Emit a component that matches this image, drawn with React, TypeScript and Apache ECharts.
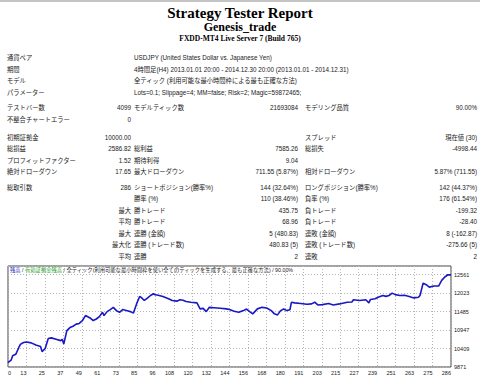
import React, { useEffect, useRef } from "react";
import * as echarts from "echarts";

// ---------- data ----------
const reportTitle = "Strategy Tester Report";
const expertName = "Genesis_trade";
const serverName = "FXDD-MT4 Live Server 7 (Build 765)";

const infoLabels = ["通貨ペア", "期間", "モデル", "パラメーター"];
const infoValues = [
  "USDJPY (United States Dollar vs. Japanese Yen)",
  "4時間足(H4) 2013.01.01 20:00 - 2014.12.30 20:00 (2013.01.01 - 2014.12.31)",
  "全ティック (利用可能な最小時間枠による最も正確な方法)",
  "Lots=0.1; Slippage=4; MM=false; Risk=2; Magic=59872465;",
];

const statRows: string[][] = [
  ["テストバー数", "4099", "モデルティック数", "21693084", "モデリング品質", "90.00%"],
  ["不整合チャートエラー", "0", "", "", "", ""],
  ["初期証拠金", "10000.00", "", "", "スプレッド", "現在値 (30)"],
  ["総損益", "2586.82", "総利益", "7585.26", "総損失", "-4998.44"],
  ["プロフィットファクター", "1.52", "期待利得", "9.04", "", ""],
  ["絶対ドローダウン", "17.65", "最大ドローダウン", "711.55 (5.87%)", "相対ドローダウン", "5.87% (711.55)"],
  ["総取引数", "286", "ショートポジション(勝率%)", "144 (32.64%)", "ロングポジション(勝率%)", "142 (44.37%)"],
  ["", "", "勝率 (%)", "110 (38.46%)", "負率 (%)", "176 (61.54%)"],
  ["", "最大", "勝トレード", "435.75", "負トレード", "-199.32"],
  ["", "平均", "勝トレード", "68.96", "負トレード", "-28.40"],
  ["", "最大", "連勝 (金額)", "5 (480.83)", "連敗 (金額)", "8 (-162.87)"],
  ["", "最大化", "連勝 (トレード数)", "480.83 (5)", "連敗 (トレード数)", "-275.66 (5)"],
  ["", "平均", "連勝", "2", "連敗", "2"],
];

const chartTitleBalance = "残高";
const chartTitleEquity = "有効証拠金残高";
const chartTitleRest = "全ティック(利用可能な最小時間枠を使い全てのティックを生成する、最も正確な方法) / 90.00%";

const xTickLabels = ["0", "13", "25", "37", "49", "61", "73", "85", "96", "108", "120", "132", "144", "156", "168", "180", "191", "203", "215", "227", "239", "251", "263", "275", "286"];
const yMin = 9871;
const yStep = 538;

const tradeIndex = [
  0, 2, 3, 5, 7, 8, 10, 12, 15, 18, 21, 22, 24, 26, 28, 31, 34, 35, 36, 38,
  40, 42, 44, 46, 48, 50, 53, 55, 57, 59, 61, 62, 64, 66, 68, 70, 72, 74, 77, 79,
  81, 83, 85, 86, 88, 90, 92, 94, 95, 97, 100, 104, 106, 109, 111, 113, 115, 118, 122, 124,
  126, 128, 130, 133, 137, 141, 143, 146, 149, 152, 154, 156, 158, 161, 164, 167, 170, 172, 174, 176,
  178, 180, 182, 183, 185, 189, 193, 196, 198, 200, 203, 207, 210, 214, 219, 222, 223, 227, 231, 233,
  234, 237, 239, 242, 244, 246, 248, 250, 253, 256, 259, 262, 265, 266, 268, 270, 272, 275, 278, 280,
  282, 284, 286,
];
const balance = [
  10000, 10070, 10200, 10240, 10440, 10530, 10585, 10600, 10575, 10510, 10470, 10320, 10410, 10700, 10720, 10680, 10640, 10680, 10540, 10930,
  11020, 11060, 11120, 11140, 11220, 11370, 11300, 11225, 11270, 11340, 11465, 11370, 11485, 11545, 11610, 11515, 11465, 11545, 11510, 11485,
  11445, 11710, 11925, 11900, 11810, 11880, 11955, 12005, 11975, 11960, 11925, 11855, 11810, 11790, 11830, 11815, 11780, 11760, 11740, 11565,
  11580, 11485, 11610, 11600, 11585, 11565, 11545, 11495, 11465, 11515, 11560, 11485, 11420, 11565, 11610, 11590, 11515, 11420, 11390, 11515,
  11560, 11515, 11540, 11760, 11740, 11720, 11700, 11710, 11760, 11680, 11690, 11720, 11680, 11710, 11760, 11765, 11830, 11810, 11830, 11740,
  11840, 11860, 11905, 11955, 11930, 11955, 12025, 11980, 11955, 11960, 11925, 11885, 11905, 11955, 12315, 12270, 12200, 12230, 12230, 12395,
  12495, 12560, 12556,
];

// ---------- layout ----------
const FONT = "'Liberation Sans', 'Noto Sans CJK JP', sans-serif";
const SERIF = "'Liberation Serif', 'DejaVu Serif', serif";
const TXT = "#1a1a1a";
const infoY = [57, 69, 80.5, 92];
const statY = [107, 119, 137, 148.5, 160, 171.5, 187, 198.5, 210, 221.5, 233, 244.5, 256];
const colX = [7, 131, 134, 298, 305, 477];
const colAlign = ["left", "right", "left", "right", "left", "right"];
const tableFont = 6.3;

function txt(text: string, x: number, y: number, align: string, size: number, opts: any = {}) {
  return {
    type: "text",
    x,
    y,
    silent: true,
    style: {
      text,
      fill: opts.fill || TXT,
      fontSize: size,
      fontFamily: opts.family || FONT,
      fontWeight: opts.weight || "normal",
      align,
      textAlign: align,
      verticalAlign: "middle",
      textVerticalAlign: "middle",
    },
  };
}

export default function App() {
  const ref = useRef<HTMLDivElement>(null);
  useEffect(() => {
    if (!ref.current) return;
    const chart = echarts.init(ref.current, null, { renderer: "svg" });
    const graphics: any[] = [];
    graphics.push({ type: "rect", shape: { x: 0, y: 0, width: 480, height: 2 }, style: { fill: "#c4c4c4" }, silent: true });
    graphics.push(txt(reportTitle, 240, 13, "center", 15, { family: SERIF, weight: "bold", fill: "#000" }));
    graphics.push(txt(expertName, 240, 27, "center", 12, { family: SERIF, weight: "bold", fill: "#000" }));
    graphics.push(txt(serverName, 240, 38, "center", 7.5, { family: SERIF, weight: "bold", fill: "#000" }));
    infoLabels.forEach((l, i) => {
      graphics.push(txt(l, colX[0], infoY[i], "left", tableFont));
      graphics.push(txt(infoValues[i], colX[2], infoY[i], "left", tableFont));
    });
    statRows.forEach((row, r) => {
      row.forEach((cell, c) => {
        if (!cell) return;
        graphics.push(txt(cell, colX[c], statY[r], colAlign[c], tableFont));
      });
    });
    graphics.push({
      type: "text",
      x: 10,
      y: 270,
      silent: true,
      style: {
        text: `{b|${chartTitleBalance}} / {g|${chartTitleEquity}} / ${chartTitleRest}`,
        fill: TXT,
        fontSize: 5.3,
        fontFamily: FONT,
        align: "left",
        textAlign: "left",
        verticalAlign: "middle",
        textVerticalAlign: "middle",
        rich: {
          b: { fill: "#1a1acc", fontSize: 5.3, fontFamily: FONT },
          g: { fill: "#1aa01a", fontSize: 5.3, fontFamily: FONT },
        },
      },
    });

    const data = tradeIndex.map((t, i) => [t, balance[i]]);
    chart.setOption({
      animation: false,
      backgroundColor: "#fff",
      grid: { left: 8, right: 29, top: 266, bottom: 12, show: true, borderColor: "#444", borderWidth: 1, backgroundColor: "#fff" },
      xAxis: [
        { type: "value", min: 0, max: 286, show: false },
        {
          type: "category",
          data: xTickLabels,
          boundaryGap: false,
          position: "bottom",
          axisLine: { show: false },
          axisTick: { show: false },
          axisLabel: { interval: 0, fontSize: 5.5, color: TXT, fontFamily: FONT, align: "right", alignMinLabel: "left", alignMaxLabel: "right", margin: 3 },
          splitLine: { show: true, lineStyle: { type: [1, 2], color: "#b4b4b4", width: 1 } },
        },
      ],
      yAxis: {
        type: "value",
        position: "right",
        min: yMin,
        max: 12815,
        interval: yStep,
        axisLine: { show: false },
        axisTick: { show: false },
        axisLabel: { fontSize: 5.5, color: TXT, fontFamily: FONT, showMaxLabel: false, margin: 3, formatter: (v: number) => String(Math.round(v)) },
        splitLine: { show: true, lineStyle: { type: [1, 2], color: "#b4b4b4", width: 1 } },
      },
      graphic: graphics,
      series: [
        {
          type: "line",
          xAxisIndex: 0,
          data,
          showSymbol: false,
          lineStyle: { color: "#1818c4", width: 1.6 },
          z: 5,
        },
      ],
    });
    return () => chart.dispose();
  }, []);
  return <div ref={ref} style={{ position: "fixed", left: 0, top: 0, width: 480, height: 379, background: "#fff" }} />;
}
